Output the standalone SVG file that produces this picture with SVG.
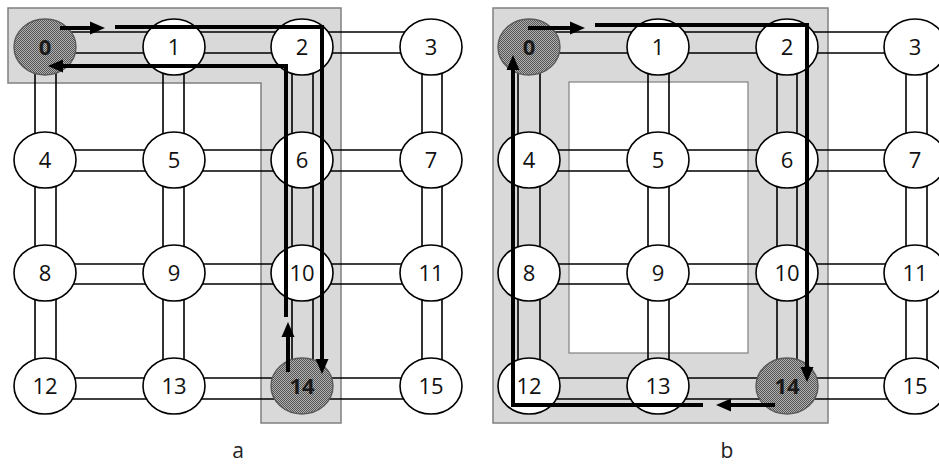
<svg xmlns="http://www.w3.org/2000/svg" width="939" height="464" viewBox="0 0 939 464">
  <style>
    .zone { fill: #d9d9d9; stroke: #808080; stroke-width: 1.5; }
    .hole { fill: #ffffff; stroke: #808080; stroke-width: 1.2; }
    .link { stroke: #000; stroke-width: 1.6; fill: none; }
    .node ellipse { fill: #ffffff; stroke: #000; stroke-width: 1.6; }
    .node.hot ellipse { fill: url(#dither); stroke: #5a5a5a; stroke-width: 1.4; }
    .node text { font-family: "Open Sans", "Liberation Sans", sans-serif; font-size: 22px; text-anchor: middle; fill: #111; }
    .node.hot text { font-weight: bold; fill: #1a1a1a; }
    .route { stroke: #000; stroke-width: 4; fill: none; stroke-linejoin: miter; marker-end: url(#head); }
    .caption { font-family: "Open Sans", "Liberation Sans", sans-serif; font-size: 21px; text-anchor: middle; fill: #222; }
  </style>
  <defs>
    <pattern id="dither" width="2" height="2" patternUnits="userSpaceOnUse">
      <rect width="2" height="2" fill="#b0b0b0"/>
      <rect width="1" height="1" fill="#555555"/>
      <rect x="1" y="1" width="1" height="1" fill="#555555"/>
    </pattern>
    <marker id="head" markerUnits="userSpaceOnUse" markerWidth="16" markerHeight="14" refX="9" refY="7" orient="auto">
      <path d="M0,0.5 L15,7 L0,13.5 z" fill="#000"/>
    </marker>
  </defs>

  <rect width="939" height="464" fill="#ffffff"/>

  <!-- highlighted regions -->
  <polygon class="zone" points="8,8 341,8 341,423 261,423 261,83 8,83"/>
  <rect class="zone" x="493" y="8" width="335" height="415"/>
  <rect class="hole" x="569" y="82" width="179" height="271"/>

  <g id="connectors">
    <!-- panel a: double-line links -->
    <g id="links-a">
      <path class="link" d="M45,32 H431 M45,53 H431"/>
      <path class="link" d="M45,150 H431 M45,171 H431"/>
      <path class="link" d="M45,264 H431 M45,284 H431"/>
      <path class="link" d="M45,378 H431 M45,399 H431"/>
      <path class="link" d="M35,47 V386 M56,47 V386"/>
      <path class="link" d="M163,47 V386 M184,47 V386"/>
      <path class="link" d="M292,47 V386 M313,47 V386"/>
      <path class="link" d="M422,47 V386 M442,47 V386"/>
    </g>
    <!-- panel b: double-line links -->
    <g id="links-b">
      <path class="link" d="M529,32 H915 M529,53 H915"/>
      <path class="link" d="M529,150 H915 M529,171 H915"/>
      <path class="link" d="M529,264 H915 M529,284 H915"/>
      <path class="link" d="M529,378 H915 M529,399 H915"/>
      <path class="link" d="M518,47 V386 M540,47 V386"/>
      <path class="link" d="M648,47 V386 M669,47 V386"/>
      <path class="link" d="M777,47 V386 M797,47 V386"/>
      <path class="link" d="M906,47 V386 M927,47 V386"/>
    </g>
  </g>

  <!-- panel a nodes -->
  <g id="a-n0" class="node hot"><ellipse cx="45" cy="47" rx="31" ry="28"/><text x="45" y="55">0</text></g>
  <g id="a-n1" class="node"><ellipse cx="174" cy="47" rx="31" ry="28"/><text x="174" y="55">1</text></g>
  <g id="a-n2" class="node"><ellipse cx="302" cy="47" rx="31" ry="28"/><text x="302" y="55">2</text></g>
  <g id="a-n3" class="node"><ellipse cx="431" cy="47" rx="31" ry="28"/><text x="431" y="55">3</text></g>
  <g id="a-n4" class="node"><ellipse cx="45" cy="160" rx="31" ry="28"/><text x="45" y="168">4</text></g>
  <g id="a-n5" class="node"><ellipse cx="174" cy="160" rx="31" ry="28"/><text x="174" y="168">5</text></g>
  <g id="a-n6" class="node"><ellipse cx="302" cy="160" rx="31" ry="28"/><text x="302" y="168">6</text></g>
  <g id="a-n7" class="node"><ellipse cx="431" cy="160" rx="31" ry="28"/><text x="431" y="168">7</text></g>
  <g id="a-n8" class="node"><ellipse cx="45" cy="273" rx="31" ry="28"/><text x="45" y="281">8</text></g>
  <g id="a-n9" class="node"><ellipse cx="174" cy="273" rx="31" ry="28"/><text x="174" y="281">9</text></g>
  <g id="a-n10" class="node"><ellipse cx="302" cy="273" rx="31" ry="28"/><text x="302" y="281">10</text></g>
  <g id="a-n11" class="node"><ellipse cx="431" cy="273" rx="31" ry="28"/><text x="431" y="281">11</text></g>
  <g id="a-n12" class="node"><ellipse cx="45" cy="386" rx="31" ry="28"/><text x="45" y="394">12</text></g>
  <g id="a-n13" class="node"><ellipse cx="174" cy="386" rx="31" ry="28"/><text x="174" y="394">13</text></g>
  <g id="a-n14" class="node hot"><ellipse cx="302" cy="386" rx="31" ry="28"/><text x="302" y="394">14</text></g>
  <g id="a-n15" class="node"><ellipse cx="431" cy="386" rx="31" ry="28"/><text x="431" y="394">15</text></g>

  <!-- panel b nodes -->
  <g id="b-n0" class="node hot"><ellipse cx="529" cy="47" rx="31" ry="28"/><text x="529" y="55">0</text></g>
  <g id="b-n1" class="node"><ellipse cx="658" cy="47" rx="31" ry="28"/><text x="658" y="55">1</text></g>
  <g id="b-n2" class="node"><ellipse cx="787" cy="47" rx="31" ry="28"/><text x="787" y="55">2</text></g>
  <g id="b-n3" class="node"><ellipse cx="915" cy="47" rx="31" ry="28"/><text x="915" y="55">3</text></g>
  <g id="b-n4" class="node"><ellipse cx="529" cy="160" rx="31" ry="28"/><text x="529" y="168">4</text></g>
  <g id="b-n5" class="node"><ellipse cx="658" cy="160" rx="31" ry="28"/><text x="658" y="168">5</text></g>
  <g id="b-n6" class="node"><ellipse cx="787" cy="160" rx="31" ry="28"/><text x="787" y="168">6</text></g>
  <g id="b-n7" class="node"><ellipse cx="915" cy="160" rx="31" ry="28"/><text x="915" y="168">7</text></g>
  <g id="b-n8" class="node"><ellipse cx="529" cy="273" rx="31" ry="28"/><text x="529" y="281">8</text></g>
  <g id="b-n9" class="node"><ellipse cx="658" cy="273" rx="31" ry="28"/><text x="658" y="281">9</text></g>
  <g id="b-n10" class="node"><ellipse cx="787" cy="273" rx="31" ry="28"/><text x="787" y="281">10</text></g>
  <g id="b-n11" class="node"><ellipse cx="915" cy="273" rx="31" ry="28"/><text x="915" y="281">11</text></g>
  <g id="b-n12" class="node"><ellipse cx="529" cy="386" rx="31" ry="28"/><text x="529" y="394">12</text></g>
  <g id="b-n13" class="node"><ellipse cx="658" cy="386" rx="31" ry="28"/><text x="658" y="394">13</text></g>
  <g id="b-n14" class="node hot"><ellipse cx="787" cy="386" rx="31" ry="28"/><text x="787" y="394">14</text></g>
  <g id="b-n15" class="node"><ellipse cx="915" cy="386" rx="31" ry="28"/><text x="915" y="394">15</text></g>

  <!-- routes drawn over the grid -->
  <g id="routes">
    <path class="route" d="M60,28 H99"/>
    <path class="route" d="M115,27 H322 V368"/>
    <path class="route" d="M288,372 V328"/>
    <path class="route" d="M286,317 V66 H54"/>

    <path class="route" d="M528,28 H579"/>
    <path class="route" d="M595,25 H807 V376"/>
    <path class="route" d="M775,405 H722"/>
    <path class="route" d="M703,405 H513 V61"/>
  </g>

  <text class="caption" x="238" y="458">a</text>
  <text class="caption" x="727" y="458">b</text>
</svg>
